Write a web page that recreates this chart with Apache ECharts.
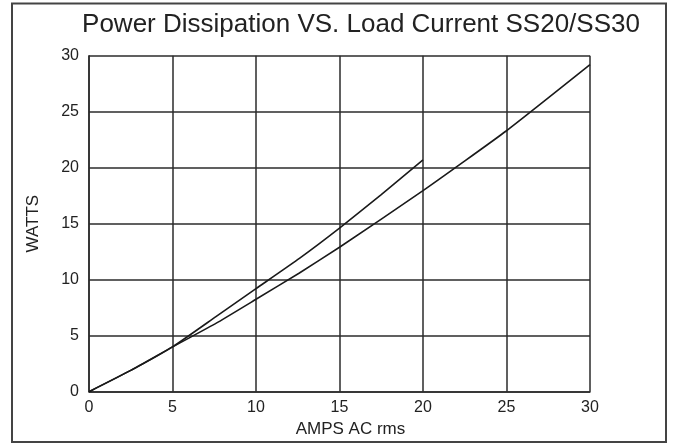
<!DOCTYPE html>
<html>
<head>
<meta charset="utf-8">
<script src="https://cdn.jsdelivr.net/npm/echarts@6/dist/echarts.min.js"></script>
<style>
  html, body { margin: 0; padding: 0; background: #fff; }
  #chart { width: 673px; height: 445px; }
</style>
</head>
<body>
<div id="chart"></div>
<script>
const titleText = 'Power Dissipation VS. Load Current SS20/SS30';
const xAxisName = 'AMPS AC rms';
const yAxisName = 'WATTS';
const xTicks = [0, 5, 10, 15, 20, 25, 30];
const yTicks = [0, 5, 10, 15, 20, 25, 30];

// SS30 curve (runs to 30 A)
const ss30Amps  = [0, 2.5, 5, 7.6, 10, 12.6, 15, 20, 25, 30];
const ss30Watts = [0, 1.9, 4.0, 6.1, 8.25, 10.6, 12.9, 17.95, 23.3, 29.2];

// SS20 curve (runs to 20 A)
const ss20Amps  = [0, 2.5, 5, 7.6, 10, 12.6, 15, 17.5, 20];
const ss20Watts = [0, 1.9, 4.0, 6.7, 9.2, 11.9, 14.6, 17.6, 20.7];

const font = "'Liberation Sans', Arial, Helvetica, sans-serif";
const ink = '#2b2b2b';

const chart = echarts.init(document.getElementById('chart'));
chart.setOption({
  animation: false,
  backgroundColor: '#fff',
  title: {
    text: titleText,
    left: 361,
    top: 12,
    padding: 0,
    textAlign: 'center',
    textStyle: { fontFamily: font, fontSize: 26, fontWeight: 'normal', color: '#222' }
  },
  graphic: [{
    type: 'rect',
    shape: { x: 12, y: 3.5, width: 654, height: 438.5 },
    style: { fill: 'none', stroke: '#444', lineWidth: 2 },
    silent: true
  }],
  grid: { left: 89, right: 83, top: 55.7, bottom: 53.3 },
  xAxis: {
    type: 'value',
    min: xTicks[0],
    max: xTicks[xTicks.length - 1],
    interval: 5,
    name: xAxisName,
    nameLocation: 'middle',
    nameGap: 22,
    nameTextStyle: { fontFamily: font, fontSize: 17, color: '#222', padding: [0, 0, 0, 22] },
    axisLine: { show: true, lineStyle: { color: ink, width: 1.5 } },
    axisTick: { show: false },
    axisLabel: { fontFamily: font, fontSize: 16, color: '#222', margin: 8 },
    splitLine: { show: true, lineStyle: { color: ink, width: 1.5 } }
  },
  yAxis: {
    type: 'value',
    min: yTicks[0],
    max: yTicks[yTicks.length - 1],
    interval: 5,
    name: yAxisName,
    nameLocation: 'middle',
    nameGap: 47,
    nameRotate: 90,
    nameTextStyle: { fontFamily: font, fontSize: 17, color: '#222' },
    axisLine: { show: true, lineStyle: { color: ink, width: 1.5 } },
    axisTick: { show: false },
    axisLabel: { fontFamily: font, fontSize: 16, color: '#222', margin: 10 },
    splitLine: { show: true, lineStyle: { color: ink, width: 1.5 } }
  },
  series: [
    {
      name: 'SS30',
      type: 'line',
      data: ss30Amps.map((a, i) => [a, ss30Watts[i]]),
      showSymbol: false,
      smooth: 0.15,
      lineStyle: { color: '#1a1a1a', width: 1.6 },
      z: 5
    },
    {
      name: 'SS20',
      type: 'line',
      data: ss20Amps.map((a, i) => [a, ss20Watts[i]]),
      showSymbol: false,
      smooth: 0.15,
      lineStyle: { color: '#1a1a1a', width: 1.6 },
      z: 5
    }
  ]
});
</script>
</body>
</html>
